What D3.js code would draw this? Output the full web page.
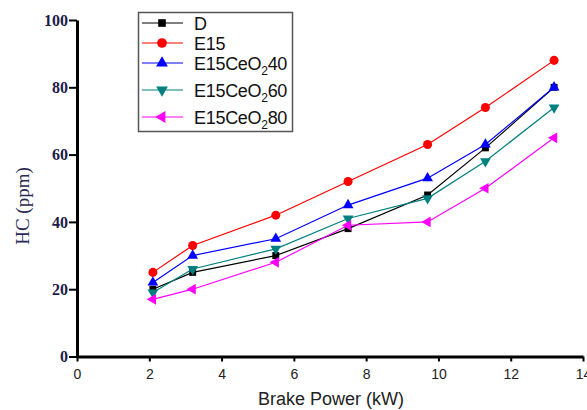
<!DOCTYPE html>
<html lang="en">
<head>
<meta charset="utf-8">
<title>HC vs Brake Power</title>
<script src="https://cdn.jsdelivr.net/npm/d3@7"></script>
<style>
  body { margin: 0; background: #fff; }
  svg { display: block; }
</style>
</head>
<body>
<script>
// data
var power = [2.1, 3.2, 5.5, 7.5, 9.7, 11.3, 13.2];
var hcD     = [20, 25, 30, 38, 48, 62, 80];
var hcE15   = [25, 33, 42, 52, 63, 74, 88];
var hcCe40  = [22, 30, 35, 45, 53, 63, 80];
var hcCe60  = [19, 26, 32, 41, 47, 58, 74];
var hcCe80  = [17, 20, 28, 39, 40, 50, 65];
var seriesNames = ["D", "E15", "E15CeO2 40", "E15CeO2 60", "E15CeO2 80"];
var xMajor = [0, 2, 4, 6, 8, 10, 12, 14];
var xMinor = [1, 3, 5, 7, 9, 11, 13];
var yMajor = [0, 20, 40, 60, 80, 100];
var yMinor = [10, 30, 50, 70, 90];

var width = 587, height = 410;

var series = [
    { name: seriesNames[0], values: hcD,    color: "#000000", symbol: d3.symbolSquare,   size: 48, rot: 0 },
    { name: seriesNames[1], values: hcE15,  color: "#ff0000", symbol: d3.symbolCircle,   size: 64, rot: 0 },
    { name: seriesNames[2], values: hcCe40, color: "#0000ff", symbol: d3.symbolTriangle, size: 50, rot: 0 },
    { name: seriesNames[3], values: hcCe60, color: "#008080", symbol: d3.symbolTriangle, size: 50, rot: 180 },
    { name: seriesNames[4], values: hcCe80, color: "#ff00ff", symbol: d3.symbolTriangle, size: 50, rot: -90 }
];

var x = d3.scaleLinear().domain([0, 14]).range([77, 583]);
var y = d3.scaleLinear().domain([0, 100]).range([356.5, 20]);

var svg = d3.select("body").append("svg")
    .attr("width", width)
    .attr("height", height);

// x axis
var xAxisG = svg.append("g").attr("transform", "translate(0," + y(0) + ")");
xAxisG.call(d3.axisBottom(x).tickValues(xMinor).tickSize(3).tickSizeOuter(0).tickFormat(""));
xAxisG.call(d3.axisBottom(x).tickValues(xMajor).tickSize(5).tickSizeOuter(0).tickPadding(8));
xAxisG.selectAll(".domain").attr("stroke-width", 3);
xAxisG.selectAll(".tick line").attr("stroke-width", 2);
xAxisG.selectAll("text")
    .attr("font-family", "Liberation Sans, Arial, sans-serif")
    .attr("font-size", "14px")
    .attr("fill", "#222");

// y axis
var yAxisG = svg.append("g").attr("transform", "translate(" + x(0) + ",0)");
yAxisG.call(d3.axisLeft(y).tickValues(yMinor).tickSize(4).tickSizeOuter(0).tickFormat(""));
yAxisG.call(d3.axisLeft(y).tickValues(yMajor).tickSize(8).tickSizeOuter(0).tickPadding(1));
yAxisG.selectAll(".domain").attr("stroke-width", 3);
yAxisG.selectAll(".tick line").attr("stroke-width", 2);
yAxisG.selectAll("text")
    .attr("font-family", "Liberation Serif, Times New Roman, serif")
    .attr("font-size", "16px")
    .attr("font-weight", "bold")
    .attr("fill", "#1c1c48");

// axis titles
svg.append("text")
    .attr("x", 331).attr("y", 405)
    .attr("text-anchor", "middle")
    .attr("font-family", "Liberation Sans, Arial, sans-serif")
    .attr("font-size", "18px")
    .attr("fill", "#222")
    .text("Brake Power (kW)");

svg.append("text")
    .attr("transform", "translate(29,206) rotate(-90)")
    .attr("text-anchor", "middle")
    .attr("font-family", "Liberation Serif, Times New Roman, serif")
    .attr("font-size", "19px")
    .attr("fill", "#2a2a55")
    .text("HC (ppm)");

// lines + markers
var line = d3.line()
    .x(function(d, i) { return x(power[i]); })
    .y(function(d) { return y(d); });

series.forEach(function(s) {
    var g = svg.append("g");
    g.append("path")
        .attr("d", line(s.values))
        .attr("fill", "none")
        .attr("stroke", s.color)
        .attr("stroke-width", 1.2);
    g.selectAll("path.marker")
        .data(s.values)
        .enter()
        .append("path")
        .attr("class", "marker")
        .attr("d", d3.symbol().type(s.symbol).size(s.size))
        .attr("transform", function(d, i) {
            return "translate(" + x(power[i]) + "," + y(d) + ") rotate(" + s.rot + ")";
        })
        .attr("fill", s.color);
});

// legend
var legend = svg.append("g");
legend.append("rect")
    .attr("x", 138.5).attr("y", 12.5)
    .attr("width", 154).attr("height", 119)
    .attr("fill", "#fff")
    .attr("stroke", "#555")
    .attr("stroke-width", 1.5);

var rowY = [23, 43, 63, 90, 117];
series.forEach(function(s, i) {
    var row = legend.append("g").attr("transform", "translate(0," + rowY[i] + ")");
    row.append("line")
        .attr("x1", 142).attr("x2", 183)
        .attr("y1", 0).attr("y2", 0)
        .attr("stroke", s.color)
        .attr("stroke-width", 1.2);
    row.append("path")
        .attr("d", d3.symbol().type(s.symbol).size(s.size + 10))
        .attr("transform", "translate(162,0) rotate(" + s.rot + ")")
        .attr("fill", s.color);
    var t = row.append("text")
        .attr("x", 194).attr("y", 6.5)
        .attr("font-family", "Liberation Sans, Arial, sans-serif")
        .attr("font-size", "18px")
        .attr("letter-spacing", "-0.3px")
        .attr("fill", "#111");
    var parts = s.name.split(" ");
    if (parts.length > 1) {
        var base = parts[0].slice(0, -1);
        t.append("tspan").text(base);
        t.append("tspan").attr("dy", 5).attr("font-size", "12px").text(parts[0].slice(-1));
        t.append("tspan").attr("dy", -5).text(parts[1]);
    } else {
        t.text(s.name);
    }
});
</script>
</body>
</html>
